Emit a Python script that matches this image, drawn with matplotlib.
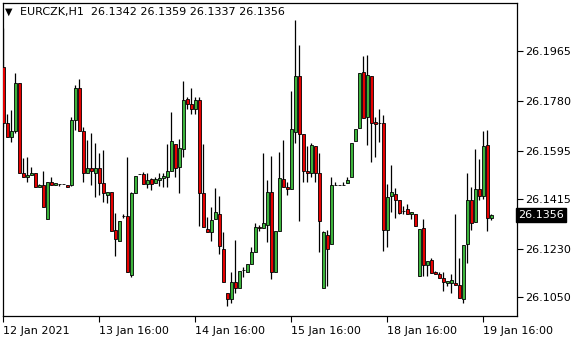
import matplotlib
matplotlib.use("Agg")
import matplotlib.pyplot as plt
import matplotlib.transforms as mtransforms

# EURCZK H1 candles
opens = [26.1905, 26.1699, 26.1647, 26.1668, 26.1848, 26.1511, 26.1496, 26.1503, 26.1511, 26.1458,
         26.1468, 26.1339, 26.1477, 26.1467, 26.1471, 26.1471, 26.1467, 26.1467, 26.1709, 26.1826,
         26.1669, 26.1511, 26.1529, 26.1513, 26.1529, 26.1473, 26.1429, 26.1440, 26.1300, 26.1260,
         26.1352, 26.1352, 26.1132, 26.1436, 26.1508, 26.1508, 26.1472, 26.1489, 26.1473, 26.1486,
         26.1491, 26.1498, 26.1517, 26.1620, 26.1533, 26.1600, 26.1786, 26.1768, 26.1749, 26.1784,
         26.1436, 26.1303, 26.1293, 26.1339, 26.1359, 26.1228, 26.1064, 26.1041, 26.1105, 26.1082,
         26.1151, 26.1144, 26.1173, 26.1219, 26.1310, 26.1306, 26.1318, 26.1440, 26.1142, 26.1296,
         26.1489, 26.1460, 26.1451, 26.1663, 26.1873, 26.1657, 26.1519, 26.1511, 26.1613, 26.1511,
         26.1082, 26.1281, 26.1246, 26.1465, 26.1465, 26.1465, 26.1473, 26.1496, 26.1631, 26.1678,
         26.1889, 26.1721, 26.1873, 26.1701, 26.1697, 26.1697, 26.1300, 26.1424, 26.1434, 26.1409,
         26.1371, 26.1377, 26.1358, 26.1358, 26.1129, 26.1306, 26.1169, 26.1188, 26.1141, 26.1135,
         26.1120, 26.1101, 26.1101, 26.1101, 26.1094, 26.1041, 26.1246, 26.1411, 26.1328, 26.1452,
         26.1427, 26.1616, 26.1342]
highs = [26.2051, 26.1732, 26.1746, 26.1883, 26.1848, 26.1568, 26.1572, 26.1535, 26.1511, 26.1471,
         26.1519, 26.1476, 26.1498, 26.1474, 26.1471, 26.1471, 26.1467, 26.1721, 26.1839, 26.1862,
         26.1684, 26.1635, 26.1660, 26.1624, 26.1586, 26.1597, 26.1442, 26.1440, 26.1361, 26.1333,
         26.1359, 26.1571, 26.1442, 26.1501, 26.1508, 26.1514, 26.1511, 26.1494, 26.1497, 26.1511,
         26.1513, 26.1619, 26.1738, 26.1620, 26.1637, 26.1854, 26.1794, 26.1827, 26.1795, 26.1795,
         26.1619, 26.1349, 26.1386, 26.1456, 26.1424, 26.1292, 26.1064, 26.1144, 26.1262, 26.1082,
         26.1163, 26.1173, 26.1235, 26.1324, 26.1318, 26.1585, 26.1486, 26.1575, 26.1296, 26.1589,
         26.1635, 26.1479, 26.1817, 26.2081, 26.1988, 26.1657, 26.1610, 26.1622, 26.1613, 26.1585,
         26.1297, 26.1300, 26.1496, 26.1479, 26.1465, 26.1479, 26.1498, 26.1496, 26.1631, 26.1883,
         26.1947, 26.1951, 26.1873, 26.1721, 26.1750, 26.1728, 26.1471, 26.1541, 26.1455, 26.1409,
         26.1389, 26.1395, 26.1368, 26.1358, 26.1302, 26.1339, 26.1185, 26.1194, 26.1148, 26.1142,
         26.1142, 26.1111, 26.1136, 26.1359, 26.1194, 26.1244, 26.1511, 26.1458, 26.1601, 26.1564,
         26.1669, 26.1672, 26.1359]
lows = [26.1684, 26.1646, 26.1628, 26.1661, 26.1511, 26.1496, 26.1479, 26.1503, 26.1458, 26.1458,
        26.1384, 26.1339, 26.1465, 26.1467, 26.1463, 26.1471, 26.1458, 26.1462, 26.1672, 26.1669,
        26.1479, 26.1511, 26.1467, 26.1422, 26.1430, 26.1405, 26.1401, 26.1297, 26.1203, 26.1257,
        26.1344, 26.1144, 26.1123, 26.1436, 26.1508, 26.1471, 26.1455, 26.1448, 26.1473, 26.1463,
        26.1461, 26.1461, 26.1517, 26.1498, 26.1436, 26.1570, 26.1750, 26.1732, 26.1730, 26.1314,
        26.1312, 26.1291, 26.1259, 26.1339, 26.1209, 26.1106, 26.1015, 26.1027, 26.1066, 26.1082,
        26.1126, 26.1144, 26.1173, 26.1219, 26.1296, 26.1306, 26.1256, 26.1116, 26.1142, 26.1296,
        26.1458, 26.1429, 26.1451, 26.1622, 26.1334, 26.1479, 26.1479, 26.1498, 26.1477, 26.1219,
        26.1082, 26.1091, 26.1246, 26.1465, 26.1465, 26.1465, 26.1473, 26.1496, 26.1631, 26.1678,
        26.1716, 26.1616, 26.1554, 26.1570, 26.1625, 26.1222, 26.1237, 26.1368, 26.1343, 26.1359,
        26.1359, 26.1358, 26.1339, 26.1314, 26.1129, 26.1129, 26.1129, 26.1138, 26.1135, 26.1120,
        26.1073, 26.1091, 26.1066, 26.1094, 26.1045, 26.1029, 26.1176, 26.1300, 26.1328, 26.1409,
        26.1415, 26.1297, 26.1337]
closes = [26.1699, 26.1647, 26.1668, 26.1848, 26.1511, 26.1496, 26.1505, 26.1511, 26.1458, 26.1468,
          26.1384, 26.1476, 26.1465, 26.1473, 26.1471, 26.1471, 26.1458, 26.1709, 26.1826, 26.1669,
          26.1511, 26.1529, 26.1517, 26.1529, 26.1473, 26.1436, 26.1442, 26.1297, 26.1265, 26.1332,
          26.1352, 26.1144, 26.1437, 26.1501, 26.1508, 26.1472, 26.1486, 26.1472, 26.1489, 26.1494,
          26.1502, 26.1518, 26.1630, 26.1529, 26.1604, 26.1784, 26.1768, 26.1749, 26.1784, 26.1436,
          26.1312, 26.1291, 26.1337, 26.1367, 26.1240, 26.1106, 26.1041, 26.1107, 26.1082, 26.1148,
          26.1151, 26.1173, 26.1216, 26.1310, 26.1308, 26.1324, 26.1440, 26.1142, 26.1296, 26.1492,
          26.1458, 26.1451, 26.1676, 26.1873, 26.1656, 26.1517, 26.1511, 26.1616, 26.1511, 26.1334,
          26.1293, 26.1228, 26.1467, 26.1465, 26.1465, 26.1465, 26.1486, 26.1622, 26.1675, 26.1883,
          26.1716, 26.1876, 26.1697, 26.1692, 26.1697, 26.1300, 26.1421, 26.1440, 26.1409, 26.1364,
          26.1371, 26.1358, 26.1368, 26.1314, 26.1302, 26.1167, 26.1185, 26.1138, 26.1135, 26.1120,
          26.1105, 26.1111, 26.1113, 26.1094, 26.1045, 26.1244, 26.1411, 26.1324, 26.1452, 26.1427,
          26.1612, 26.1343, 26.1356]

tick_bars = [0, 24, 48, 72, 96, 120]
tick_labels = ["12 Jan 2021", "13 Jan 16:00", "14 Jan 16:00", "15 Jan 16:00", "18 Jan 16:00", "19 Jan 16:00"]
price_ticks = [26.1965, 26.1780, 26.1595, 26.1415, 26.1230, 26.1050]
last_price = 26.1356

UP = "#3cb43c"
DOWN = "#e60000"

fig = plt.figure(figsize=(5.8, 3.4), dpi=100)
ax = fig.add_axes([2.5 / 580, 24 / 340, 514 / 580, 313.5 / 340])

xs = list(range(len(opens)))
for i in xs:
    o, h, l, c = opens[i], highs[i], lows[i], closes[i]
    ax.vlines(i, l, h, color="black", lw=0.9, zorder=2)
    col = UP if c >= o else DOWN
    ax.bar(i, abs(c - o), bottom=min(o, c), width=0.72, color=col,
           edgecolor="black", linewidth=0.6, zorder=3)

ax.set_xlim(-0.2, 128.3)
ax.set_ylim(26.0979, 26.2146)

for s in ax.spines.values():
    s.set_linewidth(0.9)
    s.set_color("black")

ax.yaxis.tick_right()
ax.set_yticks(price_ticks)
ax.set_yticklabels([f"{p:.4f}" for p in price_ticks])
ax.set_xticks(tick_bars)
ax.set_xticklabels(tick_labels, ha="left")
ax.tick_params(axis="both", direction="out", length=4, width=0.8, labelsize=8, pad=2)
ax.tick_params(axis="x", pad=3)

# current price box on the right axis
trans = mtransforms.blended_transform_factory(ax.transAxes, ax.transData)
ax.text(1.0035, last_price, f"{last_price:.4f}", transform=trans, ha="left", va="center",
        fontsize=8, color="white", zorder=5, clip_on=False,
        bbox=dict(boxstyle="square,pad=0.2", facecolor="black", edgecolor="black"))

# header
fig.text(5 / 580, 1 - 12 / 340, "\u25bc", fontsize=7, va="center", ha="left")
fig.text(20 / 580, 1 - 12 / 340, "EURCZK,H1  26.1342 26.1359 26.1337 26.1356",
         fontsize=8, va="center", ha="left")

fig.savefig("out.png", dpi=100)
